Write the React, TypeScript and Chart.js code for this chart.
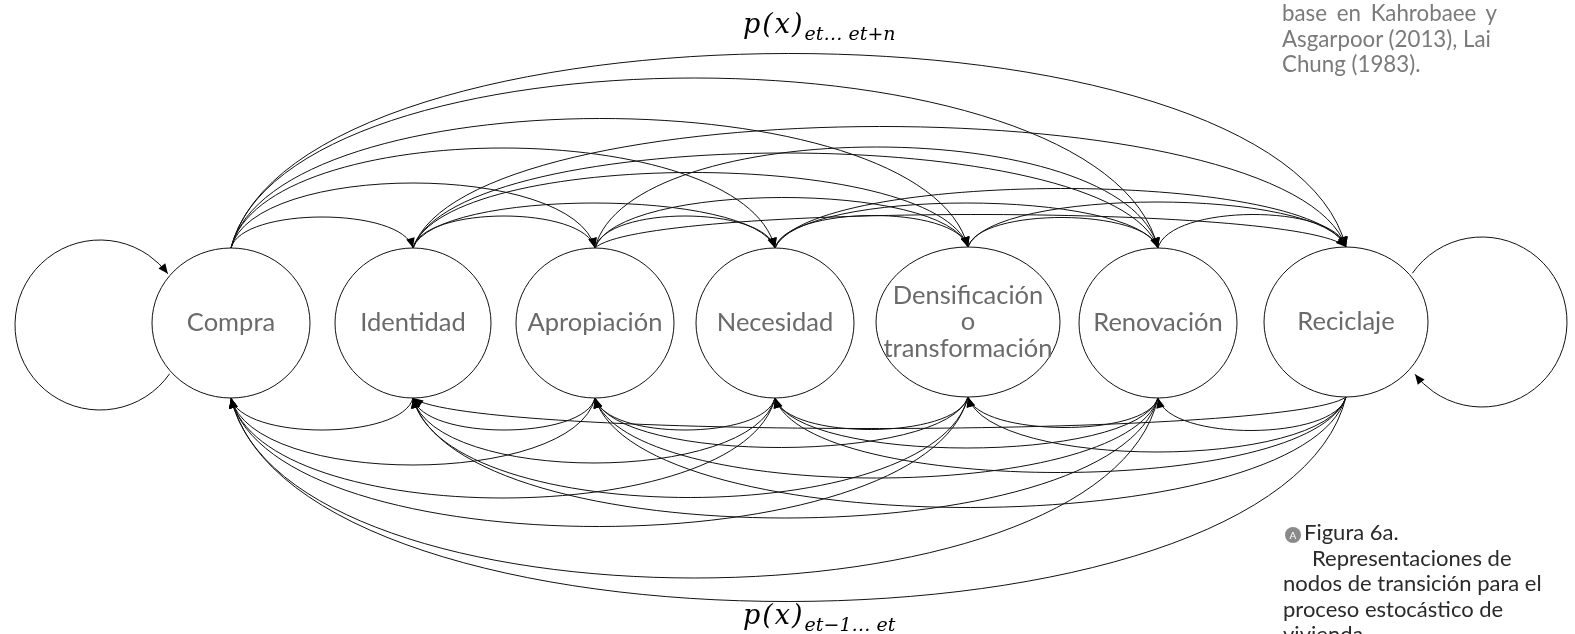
import React, { useEffect, useRef } from "react";
import { Chart, registerables } from "chart.js";
Chart.register(...registerables);

// ---- states (nodes) ----
const stateNames = ["Compra", "Identidad", "Apropiación", "Necesidad", "Densificación|o|transformación", "Renovación", "Reciclaje"];
const stateX = [231, 413, 595, 775, 968, 1158, 1346];
const stateY = [323, 323, 323, 323, 322, 323, 322];
const stateRx = [79, 78, 79, 79, 92, 79, 82];
const stateRy = [75, 75, 75, 75, 75, 75, 75];

// ---- forward transitions (upper arcs): from, to, arc height ----
const forwardFrom = [0, 0, 0, 0, 0, 0, 1, 1, 1, 1, 1, 2, 2, 2, 2, 3, 3, 3, 4, 4, 5];
const forwardTo = [1, 2, 3, 4, 5, 6, 2, 3, 4, 5, 6, 3, 4, 5, 6, 4, 5, 6, 5, 6, 6];
const forwardRise = [31, 65, 100, 129, 170, 194, 32, 45, 75, 95, 121, 32, 50, 101, 33, 32, 45, 59, 30, 45, 33];

// ---- backward transitions (lower arcs): from, to, arc depth ----
const backwardFrom = [1, 2, 3, 4, 5, 6, 2, 3, 4, 5, 6, 3, 4, 5, 6, 4, 5, 6, 5, 6, 6];
const backwardTo = [0, 0, 0, 0, 0, 0, 1, 1, 1, 1, 1, 2, 2, 2, 2, 3, 3, 3, 4, 4, 5];
const backwardRise = [32, 67, 100, 129, 180, 204, 32, 65, 100, 120, 31, 32, 50, 80, 110, 32, 50, 75, 30, 55, 33];

// ---- self loops ----
const loopState = [0, 6];
const loopCx = [100, 1482];
const loopCy = [325, 322];
const loopR = [85, 85];
const loopStartDeg = [35, 215];
const loopEndDeg = [323, 502];

const W = 1575;
const H = 634;

function drawArrow(ctx: CanvasRenderingContext2D, tx: number, ty: number, dx: number, dy: number) {
  const len = Math.hypot(dx, dy) || 1;
  const ux = dx / len, uy = dy / len;
  const L = 10, hw = 4.3;
  ctx.beginPath();
  ctx.moveTo(tx, ty);
  ctx.lineTo(tx - ux * L - uy * hw, ty - uy * L + ux * hw);
  ctx.lineTo(tx - ux * L + uy * hw, ty - uy * L - ux * hw);
  ctx.closePath();
  ctx.fill();
}

const diagramPlugin = {
  id: "markovDiagram",
  afterDatasetsDraw(chart: any) {
    const ctx: CanvasRenderingContext2D = chart.ctx;
    const xs = chart.scales.x, ys = chart.scales.y;
    const px = (v: number) => xs.getPixelForValue(v);
    const py = (v: number) => ys.getPixelForValue(v);
    ctx.save();
    ctx.strokeStyle = "#111";
    ctx.fillStyle = "#000";
    ctx.lineWidth = 1;

    const arc = (from: number, to: number, rise: number, up: boolean) => {
      const s = up ? -1 : 1;
      const x0 = stateX[from], y0 = stateY[from] + s * stateRy[from];
      const x1 = stateX[to], y1 = stateY[to] + s * stateRy[to];
      const c = rise / 0.75;
      const d = x1 - x0;
      const a = 0.06;
      const P0 = [px(x0), py(y0)];
      const P1 = [px(x0 + a * d), py(y0 + s * c)];
      const P2 = [px(x1 - a * d), py(y1 + s * c)];
      const P3 = [px(x1), py(y1)];
      ctx.beginPath();
      ctx.moveTo(P0[0], P0[1]);
      ctx.bezierCurveTo(P1[0], P1[1], P2[0], P2[1], P3[0], P3[1]);
      ctx.stroke();
      drawArrow(ctx, P3[0], P3[1], P3[0] - P2[0], P3[1] - P2[1]);
    };

    forwardFrom.forEach((f, i) => arc(f, forwardTo[i], forwardRise[i], true));
    backwardFrom.forEach((f, i) => arc(f, backwardTo[i], backwardRise[i], false));

    // self loops
    loopState.forEach((_, i) => {
      const cx = px(loopCx[i]), cy = py(loopCy[i]);
      const r = px(loopCx[i] + loopR[i]) - cx;
      const a0 = (loopStartDeg[i] * Math.PI) / 180;
      const a1 = (loopEndDeg[i] * Math.PI) / 180;
      ctx.beginPath();
      ctx.arc(cx, cy, r, a0, a1, false);
      ctx.stroke();
      const ex = cx + r * Math.cos(a1), ey = cy + r * Math.sin(a1);
      drawArrow(ctx, ex, ey, -Math.sin(a1), Math.cos(a1));
    });

    // nodes
    stateNames.forEach((name, i) => {
      const cx = px(stateX[i]), cy = py(stateY[i]);
      const rx = px(stateX[i] + stateRx[i]) - cx;
      const ry = py(stateY[i] + stateRy[i]) - cy;
      ctx.beginPath();
      ctx.ellipse(cx, cy, Math.abs(rx), Math.abs(ry), 0, 0, Math.PI * 2);
      ctx.stroke();
      ctx.fillStyle = "#6a6a6a";
      ctx.font = '25.5px Lato, "Open Sans", sans-serif';
      ctx.textAlign = "center";
      ctx.textBaseline = "alphabetic";
      const lines = name.split("|");
      const lh = 26.5;
      const base = cy + 8 - ((lines.length - 1) * lh) / 2;
      lines.forEach((ln, k) => ctx.fillText(ln, cx, base + k * lh));
    });
    ctx.restore();
  },
};

export default function App() {
  const canvasRef = useRef<HTMLCanvasElement | null>(null);
  useEffect(() => {
    document.body.style.margin = "0";
    const canvas = canvasRef.current;
    if (!canvas) return;
    const chart = new Chart(canvas, {
      type: "scatter",
      data: {
        datasets: [
          {
            label: "Estados",
            data: stateX.map((x, i) => ({ x, y: stateY[i] })),
            pointRadius: 0,
            pointHoverRadius: 0,
          },
        ],
      },
      options: {
        animation: false,
        responsive: false,
        events: [],
        layout: { padding: 0 },
        plugins: { legend: { display: false }, tooltip: { enabled: false }, title: { display: false } },
        scales: {
          x: { type: "linear", min: 0, max: W, display: false },
          y: { type: "linear", min: 0, max: H, reverse: true, display: false },
        },
      },
      plugins: [diagramPlugin],
    } as any);
    return () => chart.destroy();
  }, []);

  const math: React.CSSProperties = { fontFamily: '"DejaVu Serif", serif', fontStyle: "italic", color: "#000", whiteSpace: "nowrap", position: "absolute", lineHeight: 1 };
  const grey: React.CSSProperties = { fontFamily: 'Lato, "Open Sans", sans-serif', color: "#7a7a7a", fontSize: 22.3, lineHeight: "25.6px", position: "absolute", whiteSpace: "nowrap" };
  const cap: React.CSSProperties = { fontFamily: 'Lato, "Open Sans", sans-serif', color: "#2a2a2a", fontSize: 22, lineHeight: "25.5px", position: "absolute", whiteSpace: "nowrap" };

  return (
    <div style={{ position: "relative", width: W, height: H, overflow: "hidden", background: "#fff" }}>
      <canvas ref={canvasRef} width={W} height={H} style={{ position: "absolute", left: 0, top: 0 }} />
      <div style={{ ...math, left: 743, top: 10, fontSize: 27 }}>
        <span style={{ letterSpacing: 2 }}>p(x)</span>
        <span style={{ fontSize: 19, position: "relative", top: 7 }}>et… et+n</span>
      </div>
      <div style={{ ...math, left: 743, top: 601, fontSize: 27 }}>
        <span style={{ letterSpacing: 2 }}>p(x)</span>
        <span style={{ fontSize: 19, position: "relative", top: 7 }}>et−1… et</span>
      </div>
      <div style={{ ...grey, left: 1282, top: 0 }}>
        <div style={{ wordSpacing: 4 }}>base en Kahrobaee y</div>
        <div>Asgarpoor (2013), Lai</div>
        <div>Chung (1983).</div>
      </div>
      <div style={{ ...cap, left: 1283, top: 519 }}>
        <div>
          <span style={{ display: "inline-block", width: 16, height: 16, borderRadius: 8, background: "#8a8a8a", color: "#fff", fontSize: 10, lineHeight: "16px", textAlign: "center", verticalAlign: "1px", marginLeft: 2, marginRight: 3 }}>A</span>
          Figura 6a.
        </div>
        <div style={{ paddingLeft: 29 }}>Representaciones de</div>
        <div>nodos de transición para el</div>
        <div>proceso estocástico de</div>
        <div>vivienda.</div>
      </div>
    </div>
  );
}
